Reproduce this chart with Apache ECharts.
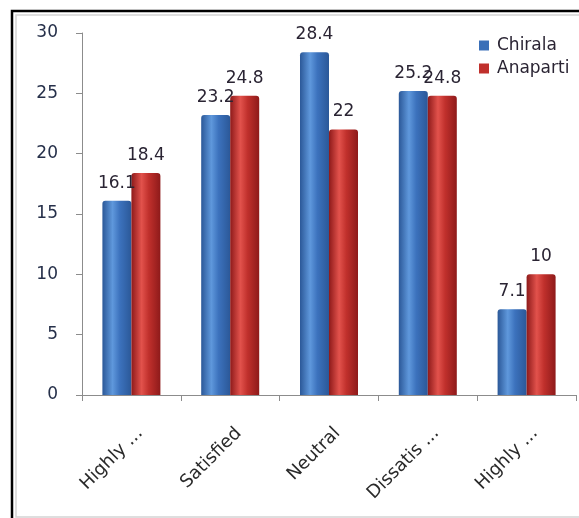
<!DOCTYPE html>
<html>
<head>
<meta charset="utf-8">
<script src="https://cdn.jsdelivr.net/npm/echarts@6/dist/echarts.min.js"></script>
<style>
  html, body { margin: 0; padding: 0; background: #fff; }
  #chart { width: 579px; height: 518px; }
</style>
</head>
<body>
<div id="chart"></div>
<script>
// Satisfaction survey: two villages compared by response category
const categories = ['Highly ...', 'Satisfied', 'Neutral', 'Dissatis ...', 'Highly ...'];
const chirala = [16.1, 23.2, 28.4, 25.2, 7.1];
const anaparti = [18.4, 24.8, 22, 24.8, 10];
const yTicks = [0, 5, 10, 15, 20, 25, 30];

const FONT = 'DejaVu Sans';
const chart = echarts.init(document.getElementById('chart'), null, { renderer: 'canvas' });

function cylinder(edge, mid, light) {
  return new echarts.graphic.LinearGradient(0, 0, 1, 0, [
    { offset: 0, color: edge },
    { offset: 0.35, color: light },
    { offset: 0.6, color: mid },
    { offset: 1, color: edge }
  ]);
}

const labelStyle = {
  show: true,
  position: 'top',
  distance: 9,
  color: '#2a2433',
  fontFamily: FONT,
  fontSize: 17
};

chart.setOption({
  animation: false,
  backgroundColor: '#fff',
  graphic: [
    { type: 'rect', shape: { x: 16, y: 15, width: 580, height: 502 },
      style: { fill: 'none', stroke: '#d4d4d4', lineWidth: 1.5 }, silent: true },
    { type: 'polyline', shape: { points: [[12, 518], [12, 11], [579, 11]] },
      style: { fill: 'none', stroke: '#000', lineWidth: 2.5 }, silent: true }
  ],
  legend: {
    orient: 'vertical',
    left: 474,
    top: 32,
    itemWidth: 10,
    itemHeight: 10,
    itemGap: 6,
    icon: 'rect',
    textStyle: { color: '#2a2433', fontFamily: FONT, fontSize: 17, padding: [0, 0, 0, 3] },
    data: [
      { name: 'Chirala', itemStyle: { color: '#3a6fb8' } },
      { name: 'Anaparti', itemStyle: { color: '#c0302c' } }
    ]
  },
  grid: { left: 82, right: 3, top: 33, bottom: 123, containLabel: false },
  xAxis: {
    type: 'category',
    data: categories,
    axisLine: { lineStyle: { color: '#8c8c8c', width: 1 } },
    axisTick: { show: true, length: 6, lineStyle: { color: '#8c8c8c' } },
    axisLabel: {
      rotate: 45,
      margin: 44,
      padding: [0, -12, 0, 0],
      color: '#2a2a2a',
      fontFamily: FONT,
      fontSize: 18
    }
  },
  yAxis: {
    type: 'value',
    min: yTicks[0],
    max: yTicks[yTicks.length - 1],
    interval: 5,
    axisLine: { show: true, lineStyle: { color: '#8c8c8c', width: 1 } },
    axisTick: { show: true, length: 6, lineStyle: { color: '#8c8c8c' } },
    splitLine: { show: false },
    axisLabel: {
      margin: 24,
      color: '#26304a',
      fontFamily: FONT,
      fontSize: 17
    }
  },
  series: [
    {
      name: 'Chirala',
      type: 'bar',
      data: chirala,
      barWidth: 29,
      barGap: '0%',
      itemStyle: { color: cylinder('#2b5898', '#3c72bd', '#5f98dc'), borderRadius: [3, 3, 0, 0] },
      label: labelStyle
    },
    {
      name: 'Anaparti',
      type: 'bar',
      data: anaparti,
      barWidth: 29,
      itemStyle: { color: cylinder('#8e1a1a', '#c0302c', '#e2524c'), borderRadius: [3, 3, 0, 0] },
      label: labelStyle
    }
  ]
});
</script>
</body>
</html>
